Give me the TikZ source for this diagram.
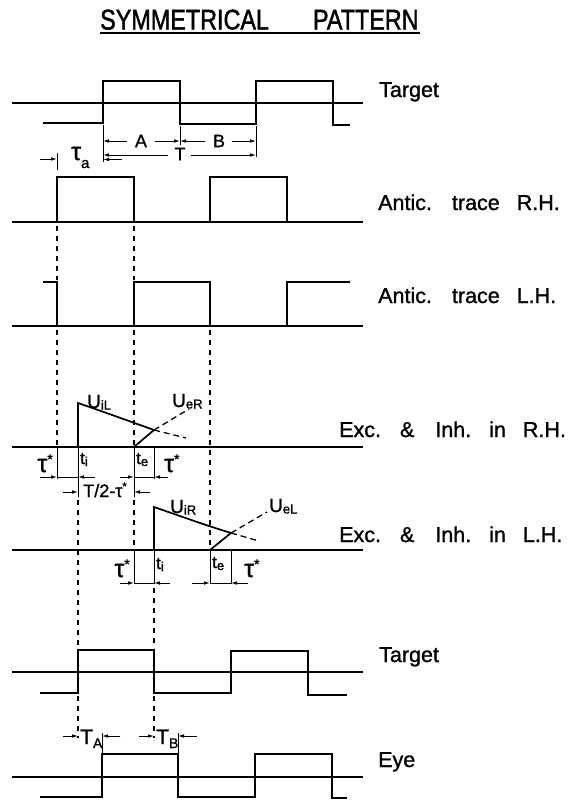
\documentclass[tikz,border=0pt]{standalone}
\usepackage{fontspec}
\setmainfont{Liberation Sans}[FakeBold=1.2]
\newfontfamily\titlefont{Liberation Sans}[FakeStretch=0.82,FakeBold=1.4]
\usetikzlibrary{arrows.meta}
\newcommand{\tauS}[2]{{\fontsize{#1}{#1}\selectfont τ}\raisebox{#2}{\fontsize{14}{14}\selectfont *}}
\newcommand{\subx}[3]{#1\raisebox{-#3}{\fontsize{13}{13}\selectfont #2}}
\begin{document}
\begin{tikzpicture}[x=1pt,y=-1pt,
 wave/.style={line width=2.2pt},
 midl/.style={line width=1.2pt},
 basel/.style={line width=1.7pt},
 vdash/.style={line width=1.1pt,dash pattern=on 5pt off 5pt},
 dim/.style={line width=0.9pt},
 arr/.style={line width=0.9pt,-{Latex[length=6pt,width=3.6pt]}},
 lab/.style={font=\fontsize{21.5}{24}\selectfont,anchor=base west,inner sep=0pt},
 sym/.style={font=\fontsize{18}{20}\selectfont,inner sep=0pt}]
\useasboundingbox (0,0) rectangle (577,801);

% title
\node[anchor=base west,inner sep=0pt,font=\titlefont\fontsize{28.5}{30}\selectfont] (title) at (100,29.5) {SYMMETRICAL\hspace{44pt}PATTERN};
\draw[line width=1.6pt] (100,33) -- (420,33);

% right labels
\node[lab] (tgt1) at (379,97) {Target};
\node[lab] (antR) at (378,210) {Antic.\hspace{20pt}trace\hspace{17pt}R.H.};
\node[lab] (antL) at (378,303) {Antic.\hspace{20pt}trace\hspace{17pt}L.H.};
\node[lab] (excR) at (339,437) {Exc.\hspace{19pt}\&\hspace{21pt}Inh.\hspace{18pt}in\hspace{17pt}R.H.};
\node[lab] (excL) at (339,542) {Exc.\hspace{19pt}\&\hspace{21pt}Inh.\hspace{18pt}in\hspace{17pt}L.H.};
\node[lab] (tgt2) at (379,662) {Target};
\node[lab] (eye) at (378,767) {Eye};

% ---------- top target ----------
\draw[midl] (12,103) -- (363,103);
\draw[wave] (43,123) -- (103,123) -- (103,81) -- (180,81) -- (180,124) -- (256,124) -- (256,81) -- (333,81) -- (333,125) -- (350,125);
% extension ticks
\draw[dim] (103,125) -- (103,162);
\draw[dim] (180,126) -- (180,145);
\draw[dim] (256,126) -- (256,157);
\draw[dim] (57,153) -- (57,170);
% A, B, T
\draw[arr] (127,141) -- (103,141);
\draw[arr] (155,141) -- (180,141);
\node[sym] (lA) at (141,141) {A};
\draw[arr] (205,141) -- (180,141);
\draw[arr] (232,141) -- (256,141);
\node[sym] (lB) at (219,141) {B};
\draw[arr] (168,155) -- (103,155);
\draw[arr] (191,155) -- (256,155);
\node[sym] (lT) at (180,154) {T};
% tau_a
\draw[arr] (40,159) -- (57,159);
\draw[arr] (122,159.5) -- (103,159.5);
\node[anchor=base west,inner sep=0pt] (ltaua) at (71,160) {{\fontsize{25}{25}\selectfont τ}\raisebox{-8pt}{\fontsize{15}{15}\selectfont a}};

% ---------- antic trace R.H. ----------
\draw[basel] (12,222) -- (363,222);
\draw[wave] (57,222) -- (57,177) -- (134,177) -- (134,222);
\draw[wave] (210,222) -- (210,177) -- (287,177) -- (287,222);

% ---------- antic trace L.H. ----------
\draw[basel] (12,326) -- (363,326);
\draw[wave] (43,282) -- (57,282) -- (57,326);
\draw[wave] (134,326) -- (134,282) -- (210,282) -- (210,326);
\draw[wave] (287,326) -- (287,282) -- (350,282);

% ---------- dashed verticals ----------
\draw[vdash] (57,226) -- (57,280);
\draw[vdash] (57,330) -- (57,447);
\draw[vdash] (134,226) -- (134,280);
\draw[vdash] (134,330) -- (134,447);
\draw[vdash] (134,500) -- (134,550);
\draw[vdash] (210,330) -- (210,550);
\draw[vdash] (78,500) -- (78,648);
\draw[vdash] (154,588) -- (154,648);
\draw[vdash] (78,696) -- (78,738);
\draw[vdash] (154,696) -- (154,738);

% ---------- Exc & Inh R.H. ----------
\draw[basel] (12,447) -- (363,447);
\draw[line width=1.7pt] (78,447) -- (78,403) .. controls (104,412) and (129,421) .. (154,430);
\draw[line width=1.7pt] (134,447) -- (154,430);
\draw[line width=1.3pt,dash pattern=on 6pt off 4pt] (154,430) -- (186,438);
\draw[line width=1.3pt,dash pattern=on 6pt off 4pt] (154,430) -- (189,409);
\node[anchor=base west,inner sep=0pt,font=\fontsize{19}{20}\selectfont] (uil) at (87,408) {\subx{U}{iL}{1.5pt}};
\node[anchor=base west,inner sep=0pt,font=\fontsize{19}{20}\selectfont] (uer) at (172,407) {\subx{U}{eR}{1.5pt}};
% ticks
\draw[dim] (57,447) -- (57,479);
\draw[dim] (78,447) -- (78,497);
\draw[dim] (134,447) -- (134,497);
\draw[dim] (154,447) -- (154,479);
% dims
\draw[arr] (40,477) -- (57,477);
\draw[dim] (57,477) -- (78,477);
\draw[arr] (95,477) -- (78,477);
\draw[arr] (120,477) -- (134,477);
\draw[dim] (134,477) -- (154,477);
\draw[arr] (168,477) -- (154,477);
\draw[arr] (63,492) -- (78,492);
\draw[arr] (150,492) -- (134,492);
\node[anchor=base east,inner sep=0pt] (ts1) at (53,472) {\tauS{25}{8pt}};
\node[anchor=base west,inner sep=0pt,font=\fontsize{17}{18}\selectfont] (ti1) at (80,464) {\subx{t}{i}{2pt}};
\node[anchor=base west,inner sep=0pt,font=\fontsize{17}{18}\selectfont] (te1) at (136,464) {\subx{t}{e}{2pt}};
\node[anchor=base west,inner sep=0pt] (ts2) at (164,472) {\tauS{25}{8pt}};
\node[anchor=base,inner sep=0pt,font=\fontsize{18}{20}\selectfont] (thalf) at (105,497) {T/2-τ\raisebox{7pt}{\fontsize{11}{11}\selectfont *}};

% ---------- Exc & Inh L.H. ----------
\draw[basel] (12,550) -- (363,550);
\draw[line width=1.7pt] (154,550) -- (154,507) .. controls (180,516) and (205,525) .. (231,533);
\draw[line width=1.7pt] (210,550) -- (231,533);
\draw[line width=1.3pt,dash pattern=on 6pt off 4pt] (231,533) -- (259,541);
\draw[line width=1.3pt,dash pattern=on 6pt off 4pt] (231,533) -- (267,512);
\node[anchor=base west,inner sep=0pt,font=\fontsize{19}{20}\selectfont] (uir) at (170,513) {\subx{U}{iR}{1.5pt}};
\node[anchor=base west,inner sep=0pt,font=\fontsize{19}{20}\selectfont] (uel) at (269,512) {\subx{U}{eL}{1.5pt}};
\draw[dim] (134,550) -- (134,584);
\draw[dim] (154,550) -- (154,584);
\draw[dim] (210,550) -- (210,584);
\draw[dim] (231,550) -- (231,584);
\draw[arr] (120,583) -- (134,583);
\draw[dim] (134,583) -- (154,583);
\draw[arr] (170,583) -- (154,583);
\draw[arr] (192,583) -- (210,583);
\draw[dim] (210,583) -- (231,583);
\draw[arr] (248,583) -- (231,583);
\node[anchor=base east,inner sep=0pt] (ts3) at (130,577) {\tauS{25}{8pt}};
\node[anchor=base west,inner sep=0pt,font=\fontsize{17}{18}\selectfont] (ti2) at (156,569) {\subx{t}{i}{2pt}};
\node[anchor=base west,inner sep=0pt,font=\fontsize{17}{18}\selectfont] (te2) at (212,568) {\subx{t}{e}{2pt}};
\node[anchor=base west,inner sep=0pt] (ts4) at (244,577) {\tauS{25}{8pt}};

% ---------- bottom target ----------
\draw[midl] (12,672) -- (363,672);
\draw[wave] (40,693) -- (78,693) -- (78,650) -- (154,650) -- (154,693) -- (231,693) -- (231,651) -- (308,651) -- (308,695) -- (347,695);

% ---------- eye ----------
\draw[midl] (12,777) -- (363,777);
\draw[wave] (40,797) -- (102,797) -- (102,754) -- (178,754) -- (178,797) -- (255,797) -- (255,754) -- (332,754) -- (332,798) -- (347,798);
\draw[dim] (102,733) -- (102,754);
\draw[dim] (178,733) -- (178,754);
\draw[arr] (63,736) -- (78,736);
\draw[arr] (120,736) -- (102,736);
\draw[arr] (139,736) -- (154,736);
\draw[arr] (197,736) -- (178,736);
\node[anchor=base west,inner sep=0pt,font=\fontsize{21}{22}\selectfont] (ta) at (80,744) {T\raisebox{-4pt}{\fontsize{14}{14}\selectfont A}};
\node[anchor=base west,inner sep=0pt,font=\fontsize{21}{22}\selectfont] (tb) at (156,744) {T\raisebox{-4pt}{\fontsize{14}{14}\selectfont B}};
\end{tikzpicture}
\end{document}
